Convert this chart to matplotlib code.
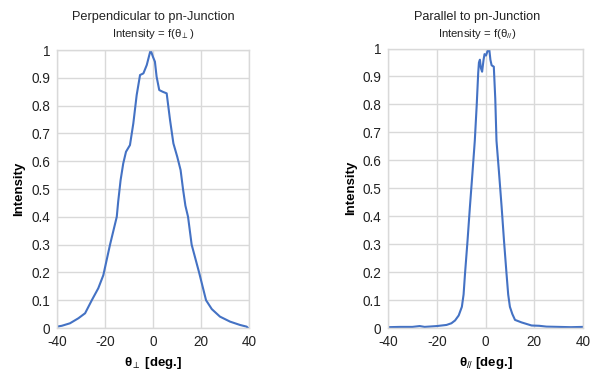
import matplotlib
matplotlib.use("Agg")
import matplotlib.pyplot as plt

plt.rcParams['font.family'] = ['Liberation Sans', 'DejaVu Sans']
plt.rcParams['mathtext.fontset'] = 'custom'
plt.rcParams['mathtext.rm'] = 'Liberation Sans'
plt.rcParams['mathtext.it'] = 'Liberation Sans'
plt.rcParams['mathtext.bf'] = 'Liberation Sans:bold'

# Perpendicular profile
perp_x = [-40, -38, -34.6, -31.1, -28.3, -25.5, -22.8, -20.7, -17.9, -15.1,
          -14.5, -13.5, -12.4, -11.25, -9.6, -8.2, -6.8, -5.4, -4.0, -2.6,
          -1.0, 0.0, 0.8, 1.5, 2.6, 4.0, 5.7, 7.1, 8.5, 10.1,
          11.5, 12.5, 13.5, 14.6, 16.1, 19.2, 22.1, 24.5, 27.9, 32.1,
          36.25, 39.0, 39.5]
perp_y = [0.005, 0.008, 0.017, 0.035, 0.053, 0.100, 0.143, 0.190, 0.300, 0.400,
          0.455, 0.532, 0.592, 0.634, 0.658, 0.736, 0.838, 0.910, 0.916, 0.946,
          1.000, 0.975, 0.958, 0.904, 0.856, 0.850, 0.844, 0.748, 0.664, 0.616,
          0.568, 0.500, 0.440, 0.400, 0.300, 0.200, 0.100, 0.068, 0.041, 0.023,
          0.011, 0.005, 0.001]

# Parallel profile
par_x = [-40, -35, -30, -27, -25, -20, -16, -14, -12.5, -11,
         -9.7, -9.0, -8.4, -7.4, -6.4, -5.4, -4.4, -3.6, -3.0, -2.7,
         -2.3, -1.9, -1.4, -0.8, -0.4, 0.2, 0.8, 1.5, 2.0, 2.5,
         3.4, 4.0, 4.5, 5.5, 6.6, 7.6, 8.6, 9.3, 10.0, 11.0,
         12.1, 14.8, 18.9, 22, 25, 30, 35, 40]
par_y = [0.003, 0.004, 0.004, 0.007, 0.004, 0.007, 0.011, 0.017, 0.027, 0.045,
         0.076, 0.120, 0.196, 0.310, 0.434, 0.550, 0.670, 0.800, 0.913, 0.950,
         0.960, 0.930, 0.917, 0.960, 0.980, 0.975, 0.990, 1.000, 0.960, 0.940,
         0.935, 0.820, 0.670, 0.560, 0.434, 0.310, 0.196, 0.120, 0.076, 0.050,
         0.029, 0.020, 0.009, 0.008, 0.005, 0.004, 0.003, 0.004]

x_ticks = [-40, -20, 0, 20, 40]
y_ticks = [0, 0.1, 0.2, 0.3, 0.4, 0.5, 0.6, 0.7, 0.8, 0.9, 1]
y_tick_labels = ['0', '0.1', '0.2', '0.3', '0.4', '0.5', '0.6', '0.7', '0.8', '0.9', '1']

line_color = '#4472C4'
grid_color = '#d9d9d9'

fig = plt.figure(figsize=(6, 3.8), dpi=100)
ax1 = fig.add_axes([0.095, 0.1368, 0.32, 0.7316])
ax2 = fig.add_axes([0.6467, 0.1368, 0.325, 0.7355])

for ax, xs, ys, xl in [(ax1, perp_x, perp_y, r'$\mathbf{\theta}_{\perp}$ [deg.]'),
                       (ax2, par_x, par_y, r'$\mathbf{\theta}_{//}$ [deg.]')]:
    ax.plot(xs, ys, color=line_color, lw=1.5, solid_joinstyle='round')
    ax.set_xlim(-40, 40)
    ax.set_ylim(0, 1)
    ax.set_xticks(x_ticks)
    ax.set_xticklabels([str(t) for t in x_ticks])
    ax.set_yticks(y_ticks)
    ax.set_yticklabels(y_tick_labels)
    ax.grid(True, color=grid_color, lw=1)
    ax.set_axisbelow(True)
    for s in ax.spines.values():
        s.set_color(grid_color)
        s.set_linewidth(1)
    ax.tick_params(length=0, labelsize=9.8, colors='#222222', pad=5)
    ax.set_xlabel(xl, fontsize=9.5, fontweight='bold', labelpad=4)
    ax.set_ylabel('Intensity', fontsize=9.5, fontweight='bold', labelpad=4)

fig.text(0.255, 0.956, 'Perpendicular to pn-Junction', ha='center', va='center', fontsize=9.2, color='#222222')
fig.text(0.255, 0.910, r'Intensity = f($\theta_{\perp}$)', ha='center', va='center', fontsize=8.2, color='#222222')
fig.text(0.795, 0.955, 'Parallel to pn-Junction', ha='center', va='center', fontsize=9.2, color='#222222')
fig.text(0.795, 0.91, r'Intensity = f($\theta_{//}$)', ha='center', va='center', fontsize=8.2, color='#222222')

fig.savefig('out.png', dpi=100)
